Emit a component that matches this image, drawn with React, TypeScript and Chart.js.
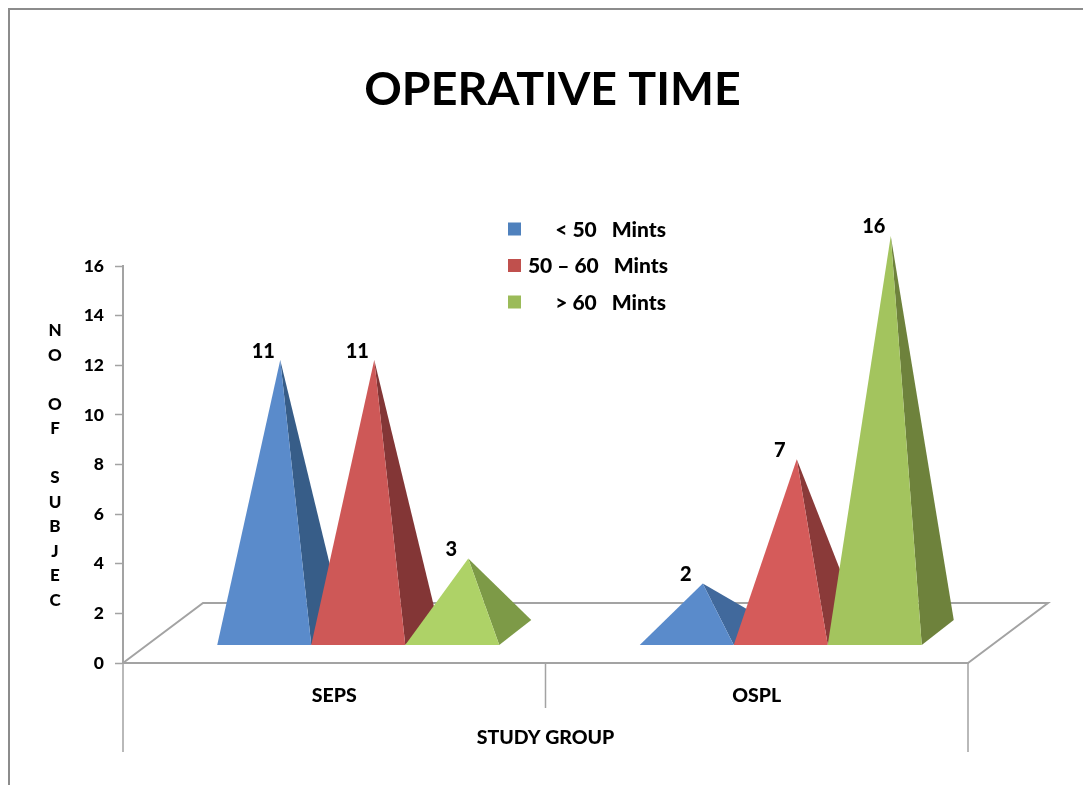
import React, { useEffect, useRef } from "react";
import { Chart, registerables } from "chart.js";

Chart.register(...registerables);

const categories = ["SEPS", "OSPL"];
const seriesNames = ["< 50   Mints", "50 – 60   Mints", "> 60   Mints"];
const under50 = [11, 2];
const from50to60 = [11, 7];
const over60 = [3, 16];
const frontColors = [
  ["#5A8BCB", "#5A8BCB"],
  ["#CE5857", "#D55B5A"],
  ["#AED267", "#A3C45E"],
];
const sideColors = [
  ["#375D88", "#41699C"],
  ["#833636", "#8A3A39"],
  ["#7D9A47", "#6E823C"],
];
const legendColors = ["#4F81BD", "#C0504D", "#9BBB59"];
const yAxisLetters = ["N", "O", "", "O", "F", "", "S", "U", "B", "J", "E", "C"];

const FONT = "Lato, Carlito, sans-serif";
const AXIS_GREY = "#A3A3A3";
const TEXT_WEIGHT = "900";
// Oblique projection of the floor and of each pyramid's square base.
const FLOOR_DX = 80;
const FLOOR_DY = 60;
const BASE_DX = 32;
const BASE_DY = 25;

const pyramidPlugin = {
  id: "pyramids",
  beforeDraw(chart: any) {
    const { ctx, scales } = chart;
    const x = scales.x;
    const y = scales.y;
    const bottom = y.bottom;
    ctx.save();

    // Outer chart frame
    ctx.strokeStyle = "#8C8C8C";
    ctx.lineWidth = 2;
    ctx.beginPath();
    ctx.moveTo(9, chart.height);
    ctx.lineTo(9, 9);
    ctx.lineTo(chart.width, 9);
    ctx.stroke();

    // Floor
    ctx.strokeStyle = AXIS_GREY;
    ctx.lineWidth = 2;
    ctx.beginPath();
    ctx.moveTo(x.left, bottom);
    ctx.lineTo(x.left + FLOOR_DX, bottom - FLOOR_DY);
    ctx.lineTo(x.right + FLOOR_DX, bottom - FLOOR_DY);
    ctx.lineTo(x.right, bottom);
    ctx.stroke();

    // Category table below the axis
    ctx.lineWidth = 1.5;
    ctx.beginPath();
    ctx.moveTo(x.left, bottom);
    ctx.lineTo(x.left, bottom + 89);
    ctx.moveTo(x.right, bottom);
    ctx.lineTo(x.right, bottom + 89);
    const mid = (x.left + x.right) / 2;
    ctx.moveTo(mid, bottom);
    ctx.lineTo(mid, bottom + 45);
    ctx.stroke();

    // Stacked y-axis caption
    ctx.fillStyle = "#000";
    ctx.font = `${TEXT_WEIGHT} 17px ${FONT}`;
    ctx.textAlign = "center";
    ctx.textBaseline = "middle";
    yAxisLetters.forEach((letter, i) => {
      if (letter) ctx.fillText(letter, 55, 330.5 + i * 24.55);
    });

    // Legend
    chart.data.datasets.forEach((ds: any, i: number) => {
      const rowY = 229 + i * 36.5;
      ctx.fillStyle = legendColors[i];
      ctx.fillRect(508, rowY - 6.5, 13, 13);
      ctx.fillStyle = "#000";
      ctx.font = `${TEXT_WEIGHT} 21px ${FONT}`;
      ctx.textAlign = "right";
      ctx.textBaseline = "middle";
      ctx.fillText(ds.label, i === 1 ? 668 : 666, rowY + 1);
    });
    ctx.restore();
  },
  beforeDatasetsDraw(chart: any) {
    const { ctx } = chart;
    ctx.save();
    chart.data.datasets.forEach((ds: any, di: number) => {
      chart.getDatasetMeta(di).data.forEach((bar: any, i: number) => {
        const shift = (FLOOR_DX - BASE_DX) / 2;
        const left = bar.x - bar.width / 2 + shift;
        const right = bar.x + bar.width / 2 + shift;
        const front = bar.base - (FLOOR_DY - BASE_DY) / 2;
        const apexX = (left + right) / 2 + BASE_DX / 2;
        const apexY = bar.y - FLOOR_DY / 2;

        // Right-hand face
        ctx.fillStyle = ds.sideColors[i];
        ctx.beginPath();
        ctx.moveTo(right, front);
        ctx.lineTo(right + BASE_DX, front - BASE_DY);
        ctx.lineTo(apexX, apexY);
        ctx.closePath();
        ctx.fill();

        // Front face
        ctx.fillStyle = ds.backgroundColor[i];
        ctx.beginPath();
        ctx.moveTo(left, front);
        ctx.lineTo(right, front);
        ctx.lineTo(apexX, apexY);
        ctx.closePath();
        ctx.fill();
      });
    });
    ctx.restore();
  },
  beforeDatasetDraw() {
    // The bars only provide geometry; the pyramids above replace them.
    return false;
  },
  afterDatasetsDraw(chart: any) {
    const { ctx } = chart;
    ctx.save();
    ctx.fillStyle = "#000";
    ctx.font = `${TEXT_WEIGHT} 20px ${FONT}`;
    ctx.textAlign = "center";
    ctx.textBaseline = "middle";
    chart.data.datasets.forEach((ds: any, di: number) => {
      chart.getDatasetMeta(di).data.forEach((bar: any, i: number) => {
        const apexX = bar.x + FLOOR_DX / 2;
        const apexY = bar.y - FLOOR_DY / 2;
        ctx.fillText(String(ds.data[i]), apexX - 17, apexY - 9);
      });
    });
    ctx.restore();
  },
};

export default function App() {
  const ref = useRef<HTMLCanvasElement>(null);

  useEffect(() => {
    const dataSeries = [under50, from50to60, over60];
    const chart = new Chart(ref.current as HTMLCanvasElement, {
      type: "bar",
      data: {
        labels: categories,
        datasets: dataSeries.map((data, i) => ({
          label: seriesNames[i],
          data,
          backgroundColor: frontColors[i],
          sideColors: sideColors[i],
          categoryPercentage: 0.6675,
          barPercentage: 1,
        })) as any,
      },
      plugins: [pyramidPlugin as any],
      options: {
        animation: false,
        responsive: false,
        layout: { padding: { left: 22, right: 0, top: 0, bottom: 0 } },
        plugins: {
          legend: { display: false },
          tooltip: { enabled: false },
          title: {
            display: true,
            text: "OPERATIVE TIME",
            color: "#000",
            font: { family: FONT, size: 46.5, weight: "bold", lineHeight: 1.2 },
            padding: { top: 62, bottom: 148.2 },
          },
        },
        scales: {
          x: {
            grid: { display: false },
            border: { color: AXIS_GREY, width: 2 },
            ticks: {
              color: "#000",
              padding: 13,
              font: { family: FONT, size: 19.5, weight: TEXT_WEIGHT },
            },
            title: {
              display: true,
              text: "STUDY GROUP",
              color: "#000",
              font: { family: FONT, size: 19.5, weight: TEXT_WEIGHT },
              padding: { top: 0, bottom: 36 },
            },
            afterFit: (s: any) => {
              s.height = 122;
            },
          },
          y: {
            min: 0,
            max: 16,
            grid: {
              drawOnChartArea: false,
              color: AXIS_GREY,
              tickLength: 8,
              tickWidth: 1.5,
            },
            border: { color: AXIS_GREY, width: 2 },
            ticks: {
              stepSize: 2,
              color: "#000",
              padding: 11,
              font: { family: FONT, size: 17.5, weight: TEXT_WEIGHT },
            },
            afterFit: (s: any) => {
              s.width = 101;
            },
          },
          // Empty right-hand gutter that leaves room for the floor's overhang.
          gutter: {
            position: "right",
            display: true,
            grid: { display: false },
            border: { display: false },
            ticks: { display: false },
            afterFit: (s: any) => {
              s.width = 115;
            },
          },
        },
      } as any,
    });
    return () => chart.destroy();
  }, []);

  return (
    <canvas
      ref={ref}
      width={1083}
      height={785}
      style={{ position: "fixed", left: 0, top: 0, display: "block" }}
    />
  );
}
